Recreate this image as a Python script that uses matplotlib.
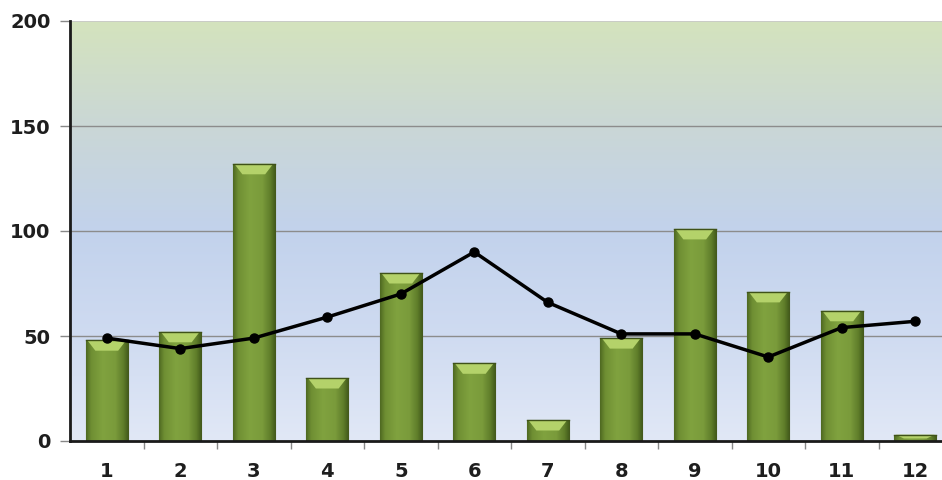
import matplotlib.pyplot as plt
import numpy as np
from matplotlib.colors import LinearSegmentedColormap
from matplotlib.patches import Polygon

months = ['1', '2', '3', '4', '5', '6', '7', '8', '9', '10', '11', '12']
bar_vals = [48, 52, 132, 30, 80, 37, 10, 49, 101, 71, 62, 3]
line_vals = [49, 44, 49, 59, 70, 90, 66, 51, 51, 40, 54, 57]

plt.rcParams['font.family'] = ['DejaVu Sans']

fig = plt.figure(figsize=(9.42, 4.8), dpi=100)
# axes runs a little past the right edge of the figure
ax = fig.add_axes([70 / 942, 39 / 480, 882 / 942, 420 / 480])

x = np.arange(1, len(months) + 1)
ax.set_xlim(0.5, 12.5)
ax.set_ylim(0, 200)

# background: green at the top fading to blue, lighter near the bottom
bg = LinearSegmentedColormap.from_list('bg', [
    (0.0, '#e1e8f6'), (0.25, '#cfdbf1'), (0.5, '#c2d2ec'),
    (0.75, '#cad7d6'), (1.0, '#d4e3bd')])
grad = np.linspace(0, 1, 256).reshape(-1, 1)
ax.imshow(grad, cmap=bg, origin='lower', aspect='auto',
          extent=[0.5, 12.5, 0, 200], zorder=0)

for y in [50, 100, 150]:
    ax.axhline(y, color='#8c8c8c', lw=1, zorder=1)
ax.axhline(200, color='#c8c8c8', lw=1.2, zorder=1)

# bars with a cylinder-like horizontal shading
shade = LinearSegmentedColormap.from_list('shade', [
    (0.0, '#4f6a22'), (0.12, '#6f8f33'), (0.4, '#80a23f'),
    (0.7, '#7a9b3b'), (0.9, '#5f7d2a'), (1.0, '#465f1d')])
hgrad = np.linspace(0, 1, 64).reshape(1, -1)
w = 0.57
bars = ax.bar(x, bar_vals, width=w, color='#7a9a3c', edgecolor='#44591c',
              lw=0.8, zorder=2)
bev = 5
for b, v in zip(bars, bar_vals):
    x0 = b.get_x()
    im = ax.imshow(hgrad, cmap=shade, aspect='auto',
                   extent=[x0, x0 + w, 0, v], zorder=2.1)
    im.set_clip_path(b)
    h = min(bev, v * 0.6)
    top = Polygon([[x0 + 0.02, v], [x0 + w - 0.02, v],
                   [x0 + w - 0.13, v - h], [x0 + 0.13, v - h]],
                  closed=True, facecolor='#b4d26a', edgecolor='none',
                  zorder=2.2)
    ax.add_patch(top)
    ax.plot([x0, x0 + w], [v, v], color='#3f5219', lw=1, zorder=2.3)

ax.plot(x, line_vals, color='black', lw=2.5, marker='o', ms=6.5,
        zorder=4, solid_joinstyle='round')

for s in ['top', 'right']:
    ax.spines[s].set_visible(False)
for s in ['left', 'bottom']:
    ax.spines[s].set_linewidth(2)
    ax.spines[s].set_color('#1a1a1a')
    ax.spines[s].set_zorder(5)

ax.set_yticks([0, 50, 100, 150, 200])
ax.set_xticks(x)
ax.set_xticklabels(months)
ax.set_xticks(np.arange(1.5, 12.5, 1), minor=True)
ax.tick_params(axis='x', which='major', length=0, pad=15)
ax.tick_params(axis='x', which='minor', length=6, width=1, color='#888888')
ax.tick_params(axis='y', length=7, width=1, color='#888888', pad=7)
for lab in ax.get_xticklabels() + ax.get_yticklabels():
    lab.set_fontsize(14)
    lab.set_fontweight('bold')
    lab.set_color('#1e1e1e')

fig.savefig('out.png', dpi=100, facecolor='white')
